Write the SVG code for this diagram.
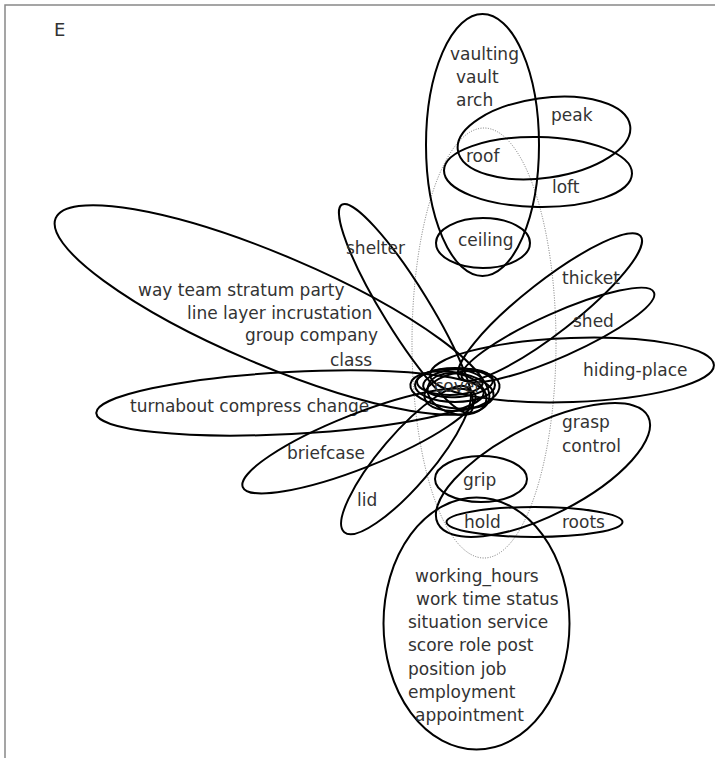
<svg xmlns="http://www.w3.org/2000/svg" width="715" height="758" viewBox="0 0 715 758">
<style>
.e{fill:none;stroke:#000;stroke-width:2}
.d{fill:none;stroke:#777;stroke-width:1;stroke-dasharray:1 1.5}
text{font-family:"DejaVu Sans","Liberation Sans",sans-serif;font-size:17px;fill:#333}
</style>
<rect x="0" y="0" width="715" height="758" fill="#fff"/>
<path d="M5 758V5H715" fill="none" stroke="#888" stroke-width="1.5"/>
<text x="54" y="36" style="font-size:18px">E</text>
<g id="connectors">
<ellipse class="d" cx="484" cy="343" rx="72" ry="215"/>
</g>
<g id="vaulting"><ellipse class="e" cx="482.5" cy="145" rx="56.5" ry="131"/>
<text x="450" y="60">vaulting</text><text x="456" y="83">vault</text><text x="456" y="106">arch</text></g>
<g id="peak"><ellipse class="e" cx="544" cy="138" rx="87" ry="40" transform="rotate(-8 544 138)"/><text x="551" y="121">peak</text></g>
<g id="loft"><ellipse class="e" cx="538" cy="172" rx="94" ry="35" transform="rotate(1 538 172)"/><text x="552" y="193">loft</text></g>
<g id="roof"><text x="466" y="162">roof</text></g>
<g id="ceiling"><ellipse class="e" cx="483" cy="243" rx="47" ry="25"/><text x="458" y="246">ceiling</text></g>
<g id="shelter"><ellipse class="e" cx="406" cy="308.5" rx="122" ry="23" transform="rotate(58.3 406 308.5)"/><text x="346" y="254">shelter</text></g>
<g id="way"><ellipse class="e" cx="272" cy="310" rx="235" ry="55" transform="rotate(23 272 310)"/>
<text x="138" y="296">way team stratum party</text><text x="187" y="319">line layer incrustation</text><text x="245" y="341">group company</text><text x="330" y="366">class</text></g>
<g id="turnabout"><ellipse class="e" cx="290" cy="403" rx="194" ry="31" transform="rotate(-3 290 403)"/><text x="130" y="412">turnabout compress change</text></g>
<g id="briefcase"><ellipse class="e" cx="359" cy="441" rx="125" ry="27" transform="rotate(-21.6 359 441)"/><text x="287" y="459">briefcase</text></g>
<g id="lid"><ellipse class="e" cx="406" cy="460" rx="95" ry="26" transform="rotate(-49.5 406 460)"/><text x="357" y="506">lid</text></g>
<g id="thicket"><ellipse class="e" cx="550" cy="307" rx="115" ry="26" transform="rotate(-38 550 307)"/><text x="562" y="284">thicket</text></g>
<g id="shed"><ellipse class="e" cx="558" cy="335" rx="105" ry="22" transform="rotate(-24 558 335)"/><text x="573" y="327">shed</text></g>
<g id="hiding"><ellipse class="e" cx="572" cy="370" rx="142" ry="32" transform="rotate(-2 572 370)"/><text x="583" y="376">hiding-place</text></g>
<g id="grasp"><ellipse class="e" cx="543" cy="470" rx="118" ry="45" transform="rotate(-27 543 470)"/><text x="562" y="428">grasp</text><text x="562" y="452">control</text></g>
<g id="grip"><ellipse class="e" cx="481" cy="479" rx="46" ry="23"/><text x="463" y="486">grip</text></g>
<g id="hold"><ellipse class="e" cx="534.5" cy="522" rx="88" ry="15"/><text x="464" y="528">hold</text><text x="562" y="528">roots</text></g>
<g id="working"><ellipse class="e" cx="476.5" cy="623.5" rx="93" ry="126"/>
<text x="415" y="582">working_hours</text><text x="416" y="605">work time status</text><text x="408" y="628">situation service</text><text x="408" y="651">score role post</text><text x="408" y="675">position job</text><text x="408" y="698">employment</text><text x="415" y="721">appointment</text></g>
<g id="cover">
<ellipse class="e" cx="455" cy="385" rx="40" ry="17"/>
<ellipse class="e" cx="458" cy="383" rx="35" ry="14" transform="rotate(-5 458 383)"/>
<ellipse class="e" cx="452" cy="390" rx="42" ry="18" transform="rotate(8 452 390)"/>
<ellipse class="e" cx="462" cy="391" rx="38" ry="19" transform="rotate(-10 462 391)"/>
<ellipse class="e" cx="450" cy="382" rx="33" ry="13"/>
<ellipse class="e" cx="457" cy="394" rx="30" ry="20" transform="rotate(15 457 394)"/>
<text x="434" y="392">cover</text></g>
</svg>
